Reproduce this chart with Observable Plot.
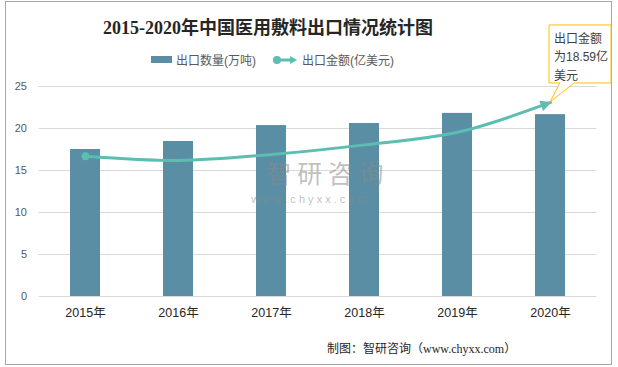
<!DOCTYPE html>
<html><head><meta charset="utf-8">
<script src="https://cdn.jsdelivr.net/npm/d3@7"></script>
<script src="https://cdn.jsdelivr.net/npm/@observablehq/plot@0.6"></script>
<style>
body{margin:0;background:#fff;}
#wrap{position:relative;width:618px;height:367px;overflow:hidden;font-family:"Liberation Sans","Noto Sans CJK SC",sans-serif;}
#frame{position:absolute;left:5px;top:1px;width:605px;height:362px;border:1px solid #a6a6a6;box-sizing:content-box;}
#title{position:absolute;left:103px;top:13px;white-space:nowrap;font-family:"Liberation Serif","Noto Sans CJK SC",serif;font-weight:bold;font-size:18px;color:#262626;}
#legend{position:absolute;left:151px;top:51px;font-size:12px;color:#595959;display:flex;align-items:center;}
#caption{position:absolute;left:327px;top:339px;white-space:nowrap;font-size:12px;color:#262626;font-family:"Liberation Serif","Noto Sans CJK SC",serif;}
#plot{position:absolute;left:0;top:0;}
</style></head>
<body>
<div id="wrap">
  <div id="frame"></div>
  <div id="plot"></div>
  <div id="title"></div>
  <div id="legend"></div>
  <div id="caption"></div>
</div>
<script>
const titleText = "2015-2020年中国医用敷料出口情况统计图";
const captionText = "制图：智研咨询（www.chyxx.com）";
const seriesNames = ["出口数量(万吨)", "出口金额(亿美元)"];
const years = ["2015年", "2016年", "2017年", "2018年", "2019年", "2020年"];
const volume = [17.5, 18.45, 20.35, 20.6, 21.8, 21.65];
const valueDrawn = [16.7, 16.2, 16.9, 18.05, 19.55, 23.1];
const yTicks = [0, 5, 10, 15, 20, 25];
const calloutLines = ["出口金额", "为18.59亿", "美元"];
const watermark = "智 研 咨 询";
const watermarkUrl = "w w w . c h y x x . c o m";

const barColor = "#5A8EA5";
const lineColor = "#5CBDB1";

const bars = years.map((y, i) => ({year: y, v: volume[i]}));
const pts = years.map((y, i) => ({year: y, v: valueDrawn[i]}));

document.getElementById("title").textContent = titleText;
document.getElementById("caption").textContent = captionText;
document.getElementById("legend").innerHTML =
  `<span style="display:inline-block;width:21px;height:7px;background:${barColor};margin-right:4px"></span>` +
  `<span>${seriesNames[0]}</span>` +
  `<svg width="26" height="10" style="margin-left:16px;margin-right:4px"><line x1="4" y1="5" x2="20" y2="5" stroke="${lineColor}" stroke-width="3"/><circle cx="5" cy="5" r="4" fill="${lineColor}"/><path d="M18,1 L25,5 L18,9 Z" fill="${lineColor}"/></svg>` +
  `<span>${seriesNames[1]}</span>`;

const plot = Plot.plot({
  width: 618,
  height: 367,
  marginLeft: 38.5,
  marginRight: 21.5,
  marginTop: 86,
  marginBottom: 71,
  style: {background: "transparent", fontFamily: "'Liberation Sans','Noto Sans CJK SC',sans-serif", color: "#595959"},
  x: {domain: years, paddingInner: 0.677, paddingOuter: 0.3385, label: null},
  y: {domain: [0, 25], label: null},
  marks: [
    Plot.ruleY(yTicks, {stroke: "#d9d9d9", strokeWidth: 1}),
    Plot.barY(bars, {x: "year", y: "v", fill: barColor}),
    Plot.text([watermark], {frameAnchor: "middle", dx: 7, dy: -17, text: d => d, fill: "#8a8a8a", fillOpacity: 0.55, fontSize: 25, fontFamily: "'Noto Sans CJK SC',sans-serif"}),
    Plot.text([watermarkUrl], {frameAnchor: "middle", dx: -9, dy: 8, text: d => d, fill: "#8a8a8a", fillOpacity: 0.55, fontSize: 11}),
    Plot.line(pts, {x: "year", y: "v", stroke: lineColor, strokeWidth: 3, curve: "catmull-rom"}),
    Plot.dot(pts.slice(0, 1), {x: "year", y: "v", r: 4, fill: lineColor}),
    Plot.axisY(yTicks, {tickSize: 0, tickPadding: 12, fontSize: 11, label: null}),
    Plot.axisX({tickSize: 0, tickPadding: 12, fontSize: 12.5, label: null, fill: "#262626"})
  ]
});
document.getElementById("plot").appendChild(plot);

// arrow head on the line
const svg = d3.select(plot);
const defs = svg.insert("defs", ":first-child");
defs.append("marker").attr("id", "arrowEnd")
  .attr("viewBox", "0 0 10 10").attr("refX", 9).attr("refY", 5)
  .attr("markerUnits", "userSpaceOnUse").attr("markerWidth", 12).attr("markerHeight", 11)
  .attr("orient", "auto")
  .append("path").attr("d", "M0,0 L10,5 L0,10 Z").attr("fill", lineColor);
svg.selectAll("g[aria-label='line'] path").attr("marker-end", "url(#arrowEnd)");

// callout anchored on the last point
const xs = plot.scale("x"), ys = plot.scale("y");
const tx = xs.apply(years[5]) + xs.bandwidth / 2;
const ty = ys.apply(valueDrawn[5]);
const bx0 = tx - 1, by0 = ty - 77, bx1 = 611, by1 = ty - 19;
const callout = svg.append("g");
callout.append("path")
  .attr("d", `M${bx0},${by0} L${bx1},${by0} L${bx1},${by1} L${tx + 24},${by1} L${tx},${ty} L${tx + 10},${by1} L${bx0},${by1} Z`)
  .attr("fill", "#fff").attr("stroke", "#FFC000").attr("stroke-width", 1);
calloutLines.forEach((t, i) => {
  callout.append("text").attr("x", bx0 + 5).attr("y", by0 + 18 + i * 18.5)
    .attr("text-anchor", "start")
    .attr("font-size", 12).attr("fill", "#404040")
    .attr("font-family", "'Liberation Sans','Noto Sans CJK SC',sans-serif").text(t);
});
</script>
</body></html>
